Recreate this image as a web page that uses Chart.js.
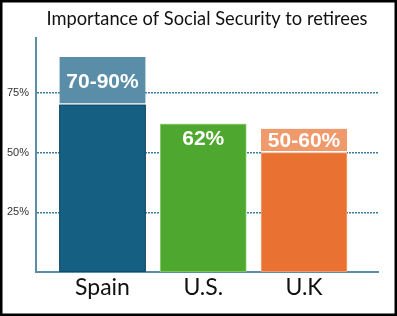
<!DOCTYPE html>
<html>
<head>
<meta charset="utf-8">
<script src="https://cdn.jsdelivr.net/npm/chart.js@4.4.1/dist/chart.umd.min.js"></script>
<style>
  html, body { margin: 0; padding: 0; background: #fff; }
  canvas { display: block; }
</style>
</head>
<body>
<canvas id="c" width="397" height="316"></canvas>
<script>
// ---- data ----
const chartTitle = 'Importance of Social Security to retirees';
const categories = ['Spain', 'U.S.', 'U.K'];
const baseValues = [70, 62, 50];          // lower (solid) part of each bar
const rangeValues = [20, 0, 10];          // upper (range) part stacked on top
const barLabels = ['70-90%', '62%', '50-60%'];
const yTicks = [25, 50, 75];

const baseColors = ['#156082', '#4EA72E', '#E97132'];
const baseBorders = ['#0E4460', '#8CCB6E', '#F4A882'];
const rangeColors = ['#5A8EA8', '#B7DDA5', '#F09A6B'];

const FONT_TEXT = "Lato, 'Open Sans', sans-serif";

const labelPlugin = {
  id: 'barLabels',
  afterDraw(chart) {
    const ctx = chart.ctx;
    const m0 = chart.getDatasetMeta(0);
    const m1 = chart.getDatasetMeta(1);
    // the dark Spain bar hides the grid lines in the reference
    ctx.save();
    ctx.beginPath();
    ctx.rect(chart.chartArea.left + 2, chart.chartArea.top, chart.chartArea.width, chart.chartArea.height - 1);
    ctx.clip();
    m0.data[0].draw(ctx);
    ctx.restore();

    ctx.save();
    ctx.fillStyle = '#ffffff';
    ctx.font = "bold 21px 'Liberation Sans', Arial, sans-serif";
    ctx.textAlign = 'center';
    ctx.textBaseline = 'middle';
    categories.forEach((c, i) => {
      let x, y;
      if (rangeValues[i] > 0) {
        const el = m1.data[i];
        x = el.x; y = (el.y + el.base) / 2;
      } else {
        const el = m0.data[i];
        x = el.x; y = el.y + 14;
      }
      ctx.fillText(barLabels[i], x, y + 1);
    });
    // title
    ctx.fillStyle = '#111';
    ctx.font = "18.3px " + FONT_TEXT;
    ctx.fillText(chartTitle, 207, 19.5);
    // outer frame
    ctx.strokeStyle = '#000';
    ctx.lineWidth = 2.5;
    ctx.strokeRect(1.25, 1.25, chart.width - 2.5, chart.height - 2.5);
    ctx.restore();
  }
};

new Chart(document.getElementById('c'), {
  type: 'bar',
  data: {
    datasets: [
      {
        data: categories.map((c, i) => ({ x: i, y: baseValues[i] })),
        backgroundColor: baseColors,
        borderColor: baseBorders,
        borderWidth: 1,
        borderSkipped: false,
        barThickness: 86
      },
      {
        data: categories.map((c, i) => ({ x: i, y: rangeValues[i] })),
        backgroundColor: rangeColors,
        borderColor: '#ffffff',
        borderWidth: { top: 0, left: 0, right: 0, bottom: 2 },
        borderSkipped: false,
        barThickness: 86
      }
    ]
  },
  options: {
    responsive: false,
    animation: false,
    events: [],
    layout: { padding: { left: 0, right: 19, top: 38, bottom: 0 } },
    plugins: {
      legend: { display: false },
      tooltip: { enabled: false },
      title: { display: false }
    },
    scales: {
      x: {
        type: 'linear',
        stacked: true,
        offset: false,
        bounds: 'ticks',
        min: -0.66,
        max: 2.734,
        afterBuildTicks(scale) { scale.ticks = categories.map((c, i) => ({ value: i })); },
        afterFit(scale) { scale.height = 44; },
        grid: { display: false, drawTicks: false, offset: false },
        border: { display: true, color: '#5B8DA6', width: 2 },
        ticks: {
          callback: (v) => categories[v],
          color: '#111',
          font: { family: FONT_TEXT, size: 23 },
          padding: 2,
          maxRotation: 0,
          autoSkip: false
        }
      },
      y: {
        stacked: true,
        z: 1,
        min: 0,
        max: 98,
        afterBuildTicks(scale) { scale.ticks = yTicks.map(v => ({ value: v })); },
        afterFit(scale) { scale.width = 36; },
        grid: { color: '#3E7DA2', lineWidth: 1.5, drawTicks: false },
        border: { display: true, color: '#5B8DA6', width: 2, dash: [2, 1] },
        ticks: {
          callback: (v) => v + '%',
          color: '#333',
          font: { family: "'Liberation Sans', Arial, sans-serif", size: 11 },
          padding: 7
        }
      }
    }
  },
  plugins: [labelPlugin]
});
</script>
</body>
</html>
